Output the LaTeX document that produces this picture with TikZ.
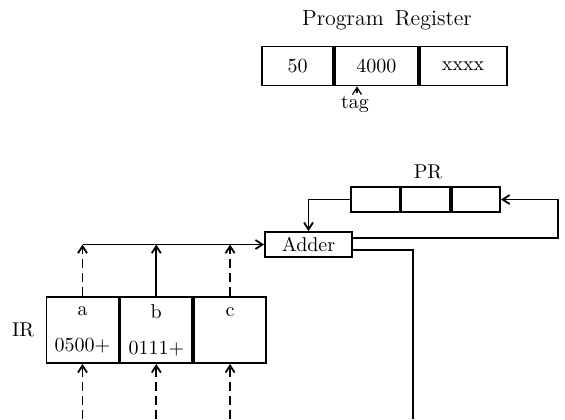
\documentclass[tikz,border=0pt]{standalone}
\usepackage{tikz}
\usetikzlibrary{arrows.meta,positioning}

\begin{document}
\begin{tikzpicture}[x=0.5pt,y=-0.5pt,>={Straight Barb[length=3.5pt,width=4.5pt]},line width=0.9pt,
    reg/.style={draw,inner sep=0pt,minimum width=#1,minimum height=19.5pt},
    prcell/.style={draw,inner sep=0pt,minimum width=24.2pt,minimum height=12.5pt},
    ircell/.style={draw,inner sep=0pt,minimum width=36pt,minimum height=33pt,align=center},
    dashline/.style={dash pattern=on 4.5pt off 2.5pt}]
  \useasboundingbox (0,0) rectangle (565,419);
  % program register with its tag field
  \node[font=\fontsize{11}{13}\selectfont] (pgtitle) at (387,20) {Program\enspace Register};
  \node[reg=35.5pt] (pg1) at (297.5,66) {50};
  \node[reg=41.5pt,right=0pt of pg1] (pg2) {4000};
  \node[reg=43.5pt,right=0pt of pg2] (pg3) {xxxx};
  \node[inner sep=1pt] (tag) at (355,104) {tag};
  \draw[->,line width=0.6pt] ([xshift=1pt]tag.north) -- ([xshift=1pt]tag.north |- pg2.south);

  % PR and adder
  \node (prlabel) at (428,172) {PR};
  \node[prcell] (pr1) at (375.5,199.5) {};
  \node[prcell,right=0pt of pr1] (pr2) {};
  \node[prcell,right=0pt of pr2] (pr3) {};
  \node[draw,inner sep=0pt,minimum width=43.5pt,minimum height=12.5pt] (adder) at (308.5,244.5) {Adder};

  % IR fields
  \node[ircell] (ir1) at (82.5,330) {a\\[6pt]0500+};
  \node[ircell,right=0pt of ir1] (ir2) {b\\[6pt]0111+};
  \node[ircell,right=0pt of ir2] (ir3) {c\\[6pt]\phantom{0}};
  \node[left=2pt of ir1] (irlabel) {IR};

  \coordinate (low) at (0,419);
  \coordinate (ret) at (558,0);
  \coordinate (out) at (413,419);
  \coordinate (addup) at ([yshift=3.25pt]adder.east);
  \coordinate (adddn) at ([yshift=-2.75pt]adder.east);

  % bus into the adder
  \draw[->] (ir1.north |- adder.west) -- (adder.west);
  \draw[->,dashline] (ir1.north) -- (ir1.north |- adder.west);
  \draw[->] (ir2.north) -- (ir2.north |- adder.west);
  \draw[->,dashline] (ir3.north) -- (ir3.north |- adder.west);
  \foreach \c in {ir1,ir2,ir3}
    \draw[->,dashline] (\c.south |- low) -- (\c.south);

  % loop PR -> adder -> PR
  \draw[->] (pr1.west) -| (adder.north);
  \draw[->] (addup) -- (addup -| ret) |- (pr3.east);
  \draw (adddn) -| (out);
\end{tikzpicture}
\end{document}
